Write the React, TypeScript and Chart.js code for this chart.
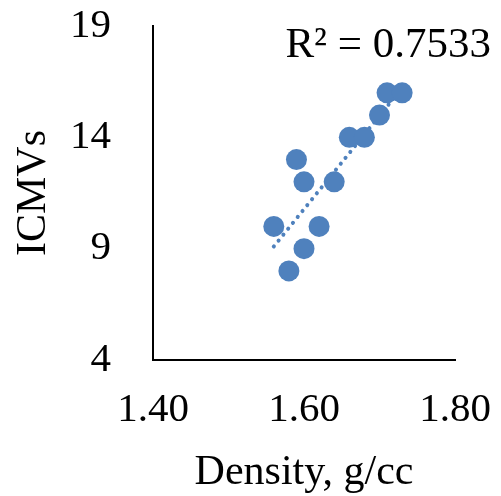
import React, { useEffect, useRef } from "react";
import { Chart, registerables } from "chart.js";

Chart.register(...registerables);

const density: number[] = [1.71, 1.73, 1.70, 1.66, 1.68, 1.59, 1.60, 1.64, 1.56, 1.62, 1.60, 1.58];
const icmvs: number[] = [16, 16, 15, 14, 14, 13, 12, 12, 10, 10, 9, 8];
const xTicks: number[] = [1.4, 1.6, 1.8];
const yTicks: number[] = [4, 9, 14, 19];
const r2Label = "R\u00B2 = 0.7533";
const xTitle = "Density, g/cc";
const yTitle = "ICMVs";

const FONT = "'Liberation Serif', 'Times New Roman', serif";
const BLUE = "#4F81BD";

function regression(xs: number[], ys: number[]) {
  const n = xs.length;
  const mx = xs.reduce((a, b) => a + b, 0) / n;
  const my = ys.reduce((a, b) => a + b, 0) / n;
  let sxy = 0, sxx = 0;
  for (let i = 0; i < n; i++) {
    sxy += (xs[i] - mx) * (ys[i] - my);
    sxx += (xs[i] - mx) * (xs[i] - mx);
  }
  const m = sxy / sxx;
  return { m, b: my - m * mx };
}

export default function App() {
  const ref = useRef<HTMLCanvasElement | null>(null);
  useEffect(() => {
    if (!ref.current) return;
    const { m, b } = regression(density, icmvs);
    const xmin = Math.min(...density);
    const xmax = Math.max(...density);
    const trend = [
      { x: xmin, y: m * xmin + b },
      { x: xmax, y: m * xmax + b },
    ];
    const r2Plugin = {
      id: "r2",
      afterDraw(chart: any) {
        const ctx = chart.ctx;
        ctx.save();
        ctx.font = `43px ${FONT}`;
        ctx.fillStyle = "#000";
        ctx.textAlign = "right";
        ctx.textBaseline = "alphabetic";
        ctx.fillText(r2Label, 491, 57);
        ctx.restore();
      },
    };
    const chart = new Chart(ref.current, {
      type: "scatter",
      data: {
        datasets: [
          {
            type: "line",
            data: trend,
            borderColor: BLUE,
            borderWidth: 4,
            borderDash: [0.1, 7.5],
            borderCapStyle: "round",
            pointRadius: 0,
            fill: false,
            order: 2,
          } as any,
          {
            data: density.map((x, i) => ({ x, y: icmvs[i] })),
            backgroundColor: BLUE,
            borderColor: BLUE,
            pointRadius: 10.5,
            pointHoverRadius: 10.5,
            borderWidth: 0,
            order: 1,
          },
        ],
      },
      options: {
        responsive: false,
        animation: false,
        layout: { padding: { left: 0, right: 46, top: 26, bottom: 0 } },
        plugins: { legend: { display: false }, tooltip: { enabled: false } },
        scales: {
          x: {
            type: "linear",
            min: 1.4,
            max: 1.8,
            afterBuildTicks: (s: any) => { s.ticks = xTicks.map((v) => ({ value: v })); },
            afterFit: (s: any) => {
              s.height = 136;
              s.paddingLeft = 0;
              s.paddingRight = 0;
            },
            ticks: {
              callback: (v: any) => Number(v).toFixed(2),
              font: { family: FONT, size: 41 },
              color: "#000",
              padding: 26,
            },
            grid: { display: false, drawTicks: false },
            border: { color: "#000", width: 2 },
            title: {
              display: true,
              text: xTitle,
              font: { family: FONT, size: 42, lineHeight: 1.0 },
              color: "#000",
              padding: { top: 0, bottom: 2 },
            },
          },
          y: {
            type: "linear",
            min: 4,
            max: 19,
            afterBuildTicks: (s: any) => { s.ticks = yTicks.map((v) => ({ value: v })); },
            afterFit: (s: any) => {
              s.width = 153;
              s.paddingTop = 0;
              s.paddingBottom = 0;
            },
            ticks: {
              font: { family: FONT, size: 41 },
              color: "#000",
              padding: 42,
            },
            grid: { display: false, drawTicks: false },
            border: { color: "#000", width: 2 },
            title: {
              display: true,
              text: yTitle,
              font: { family: FONT, size: 42 },
              color: "#000",
              padding: { top: 9, bottom: 0 },
            },
          },
        },
      },
      plugins: [r2Plugin],
    });
    return () => chart.destroy();
  }, []);
  return (
    <canvas
      ref={ref}
      width={501}
      height={496}
      style={{ position: "absolute", left: 0, top: 0, width: 501, height: 496 }}
    />
  );
}
